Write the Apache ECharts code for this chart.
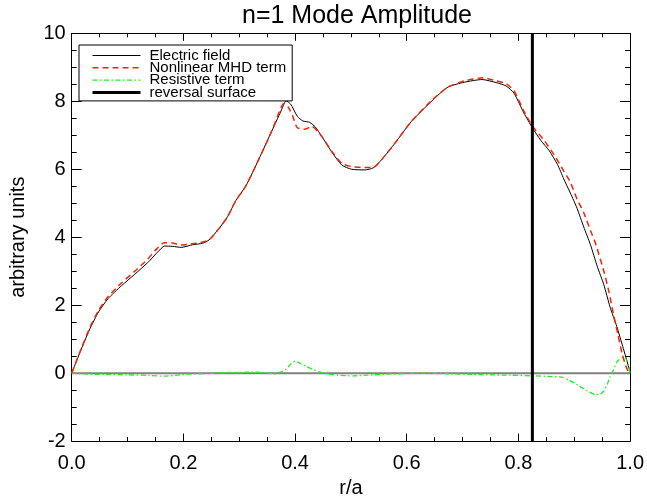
<!DOCTYPE html>
<html>
<head>
<meta charset="utf-8">
<script src="https://cdn.jsdelivr.net/npm/echarts@6/dist/echarts.min.js"></script>
<style>
html,body{margin:0;padding:0;background:#fff;}
#chart{width:647px;height:503px;}
</style>
</head>
<body>
<div id="chart"></div>
<script>
// ---- data ----
const titleText = 'n=1 Mode Amplitude';
const xName = 'r/a';
const yName = 'arbitrary units';
const seriesNames = ['Electric field', 'Nonlinear MHD term', 'Resistive term', 'reversal surface'];

const xTicks = [0.0, 0.2, 0.4, 0.6, 0.8, 1.0];
const yTicks = [-2, 0, 2, 4, 6, 8, 10];

// Electric field
const rElec = [0, 0.018, 0.033, 0.048, 0.065, 0.089, 0.113, 0.136, 0.155, 0.166, 0.181, 0.196, 0.217, 0.234, 0.246, 0.264, 0.279, 0.294, 0.312, 0.335, 0.359, 0.374, 0.384, 0.392, 0.404, 0.414, 0.426, 0.436, 0.448, 0.466, 0.484, 0.501, 0.525, 0.540, 0.555, 0.579, 0.608, 0.638, 0.656, 0.674, 0.703, 0.735, 0.760, 0.778, 0.792, 0.810, 0.825, 0.840, 0.855, 0.870, 0.881, 0.893, 0.905, 0.917, 0.929, 0.941, 0.953, 0.964, 0.976, 0.988, 1.0];
const valElec = [0, 0.74, 1.32, 1.80, 2.19, 2.57, 2.91, 3.25, 3.58, 3.74, 3.73, 3.70, 3.78, 3.82, 3.92, 4.26, 4.60, 5.08, 5.51, 6.29, 7.15, 7.68, 8.01, 7.92, 7.56, 7.42, 7.38, 7.25, 6.96, 6.50, 6.12, 6.00, 5.98, 6.04, 6.28, 6.77, 7.40, 7.90, 8.18, 8.42, 8.56, 8.64, 8.55, 8.45, 8.24, 7.65, 7.22, 6.85, 6.55, 6.14, 5.72, 5.30, 4.85, 4.30, 3.78, 3.15, 2.60, 1.95, 1.38, 0.72, 0.04];

// Nonlinear MHD term
const rMHD = [0, 0.018, 0.033, 0.048, 0.065, 0.089, 0.113, 0.136, 0.150, 0.166, 0.180, 0.196, 0.213, 0.230, 0.246, 0.264, 0.279, 0.294, 0.312, 0.335, 0.359, 0.372, 0.379, 0.388, 0.396, 0.404, 0.418, 0.430, 0.448, 0.466, 0.484, 0.501, 0.525, 0.540, 0.555, 0.579, 0.608, 0.638, 0.656, 0.674, 0.703, 0.737, 0.760, 0.778, 0.792, 0.810, 0.825, 0.846, 0.864, 0.881, 0.893, 0.905, 0.917, 0.929, 0.938, 0.953, 0.962, 0.970, 0.978, 0.986, 0.994, 1.0];
const valMHD = [0, 0.76, 1.36, 1.84, 2.25, 2.65, 3.00, 3.35, 3.62, 3.84, 3.83, 3.77, 3.80, 3.84, 3.92, 4.26, 4.60, 5.08, 5.51, 6.29, 7.15, 7.70, 7.93, 7.82, 7.55, 7.22, 7.18, 7.26, 6.96, 6.52, 6.17, 6.08, 6.05, 6.05, 6.28, 6.77, 7.40, 7.92, 8.19, 8.42, 8.60, 8.69, 8.60, 8.52, 8.31, 7.70, 7.27, 6.85, 6.42, 5.95, 5.62, 5.12, 4.72, 4.20, 3.82, 3.00, 2.40, 1.75, 1.15, 0.55, 0.14, -0.03];

// Resistive term
const rRes = [0, 0.03, 0.06, 0.10, 0.14, 0.166, 0.19, 0.21, 0.24, 0.267, 0.30, 0.326, 0.35, 0.362, 0.372, 0.383, 0.393, 0.400, 0.410, 0.421, 0.433, 0.445, 0.46, 0.475, 0.504, 0.53, 0.564, 0.60, 0.623, 0.65, 0.683, 0.72, 0.742, 0.786, 0.825, 0.860, 0.878, 0.89, 0.899, 0.917, 0.938, 0.946, 0.953, 0.959, 0.964, 0.968, 0.976, 0.985, 0.991, 0.996, 1.0];
const valRes = [0, -0.03, -0.04, -0.05, -0.07, -0.09, -0.06, -0.03, -0.01, 0.01, 0.02, 0.03, 0.01, -0.02, 0.02, 0.10, 0.28, 0.35, 0.28, 0.19, 0.10, 0.03, -0.03, -0.06, -0.08, -0.06, -0.03, -0.01, 0.0, -0.01, -0.02, -0.04, -0.05, -0.06, -0.08, -0.10, -0.12, -0.20, -0.28, -0.46, -0.63, -0.62, -0.52, -0.33, -0.12, 0.01, 0.32, 0.45, 0.46, 0.25, 0.02];

// Reversal surface position
const rReversal = 0.825;
const reversalSpan = [-2, 10];
const zeroSpan = [0, 1];

const pairs = (xs, ys) => xs.map((x, i) => [x, ys[i]]);

const font = 'Liberation Sans, Arial, Helvetica, sans-serif';
const chart = echarts.init(document.getElementById('chart'), null, {renderer: 'canvas'});

const styles = [
  {color: '#000', width: 1, type: 'solid'},
  {color: '#ff2000', width: 1.5, type: [6, 4]},
  {color: '#22ee22', width: 1.3, type: [5, 2.5, 1.5, 2.5]},
  {color: '#000', width: 3, type: 'solid'}
];

const commonX = {
  type: 'value', min: 0, max: 1, interval: 0.2,
  axisLine: {show: true, onZero: false, lineStyle: {color: '#000', width: 1}},
  axisTick: {show: true, inside: true, length: 7.5, lineStyle: {color: '#000', width: 1}},
  minorTick: {show: true, splitNumber: 4, length: 4, lineStyle: {color: '#000', width: 1}},
  splitLine: {show: false}
};
const commonY = {
  type: 'value', min: -2, max: 10, interval: 2,
  axisLine: {show: true, onZero: false, lineStyle: {color: '#000', width: 1}},
  axisTick: {show: true, inside: true, length: 10, lineStyle: {color: '#000', width: 1}},
  minorTick: {show: true, splitNumber: 4, length: 5, lineStyle: {color: '#000', width: 1}},
  splitLine: {show: false}
};

chart.setOption({
  animation: false,
  backgroundColor: '#fff',
  title: {
    text: titleText, left: 352, top: -1, textAlign: 'center',
    textStyle: {fontFamily: font, fontSize: 25, fontWeight: 'normal', color: '#000'}
  },
  grid: {left: 71.7, right: 13.7, top: 33.3, bottom: 55.2, containLabel: false},
  legend: {
    orient: 'vertical', left: 79, top: 45,
    data: seriesNames.map((n, i) => ({name: n, lineStyle: {width: styles[i].width, type: styles[i].type, color: styles[i].color}})),
    backgroundColor: '#fff', borderColor: '#000', borderWidth: 1, borderRadius: 0,
    padding: [3, 6, 1, 12],
    itemWidth: 48, itemHeight: 12, itemGap: -2.7,
    itemStyle: {opacity: 0},
    textStyle: {fontFamily: font, fontSize: 15, color: '#000', lineHeight: 12.4, padding: [0, 0, 0, 4]},
    selectedMode: false
  },
  xAxis: [
    Object.assign({}, commonX, {
      position: 'bottom', name: xName, nameLocation: 'middle', nameGap: 35,
      nameTextStyle: {fontFamily: font, fontSize: 20, color: '#000'},
      axisLabel: {show: true, margin: 12, fontFamily: font, fontSize: 20, color: '#000',
        formatter: v => (xTicks.some(t => Math.abs(t - v) < 1e-9) ? v.toFixed(1) : '')}
    }),
    Object.assign({}, commonX, {position: 'top', axisLabel: {show: false}})
  ],
  yAxis: [
    Object.assign({}, commonY, {
      position: 'left', name: yName, nameLocation: 'middle', nameGap: 43, nameRotate: 90,
      nameTextStyle: {fontFamily: font, fontSize: 20, color: '#000'},
      axisLabel: {show: true, margin: 6, fontFamily: font, fontSize: 20, color: '#000',
        formatter: v => (yTicks.indexOf(v) >= 0 ? String(v) : '')}
    }),
    Object.assign({}, commonY, {position: 'right', axisLabel: {show: false}})
  ],
  series: [
    {
      name: 'zero', type: 'line', xAxisIndex: 0, yAxisIndex: 0,
      data: zeroSpan.map(x => [x, 0]), symbol: 'none', silent: true, z: 1,
      lineStyle: {color: '#808080', width: 2}
    },
    {
      name: seriesNames[0], type: 'line', data: pairs(rElec, valElec),
      symbol: 'none', smooth: 0.2, z: 2, color: styles[0].color,
      lineStyle: styles[0]
    },
    {
      name: seriesNames[1], type: 'line', data: pairs(rMHD, valMHD),
      symbol: 'none', smooth: 0.2, z: 3, color: styles[1].color,
      lineStyle: styles[1]
    },
    {
      name: seriesNames[2], type: 'line', data: pairs(rRes, valRes),
      symbol: 'none', smooth: 0.2, z: 4, color: styles[2].color,
      lineStyle: styles[2]
    },
    {
      name: seriesNames[3], type: 'line', data: reversalSpan.map(y => [rReversal, y]),
      symbol: 'none', z: 5, color: styles[3].color,
      lineStyle: styles[3]
    }
  ]
});
</script>
</body>
</html>
